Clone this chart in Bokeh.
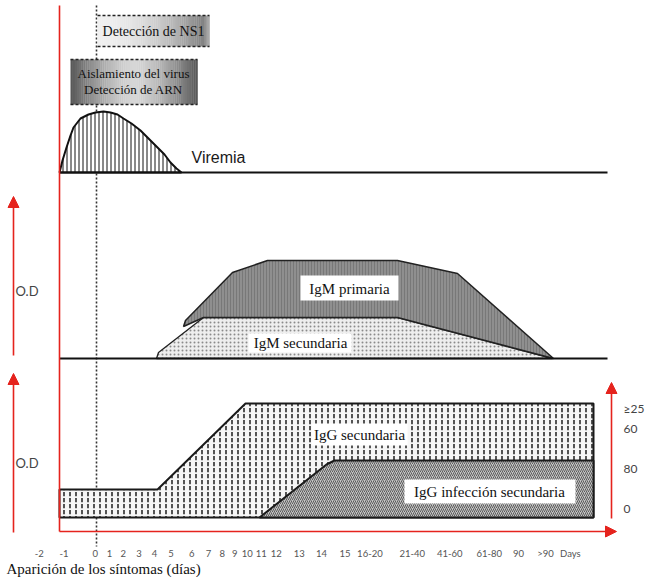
import numpy as np
from bokeh.plotting import figure
from bokeh.models import Range1d, Arrow, NormalHead
from bokeh.core.properties import value
from bokeh.embed import file_html
from bokeh.resources import INLINE

# ---------------- data (diagram coordinates) ----------------
tick_labels = ["-2", "-1", "0", "1", "2", "3", "4", "5", "6", "7", "8", "9", "10",
               "11", "12", "13", "14", "15", "16-20", "21-40", "41-60", "61-80",
               "90", ">90", "Days"]
tick_x = [38.7, 63.6, 94.8, 109, 122.7, 138.5, 153.9, 170.5, 191.3, 208, 221.7,
          234.2, 246.7, 260.8, 275.8, 298.7, 321.1, 344.4, 369.4, 411.8, 449.2,
          488.8, 517.9, 545, 569.9]

viremia_x = [59, 62, 66, 70, 73, 80, 88, 95, 103, 110, 117, 123, 131, 140, 148, 157, 164, 170, 176, 181]
viremia_y = [172, 160, 147, 135, 127, 118, 114, 112, 111, 112, 114, 118, 123, 130, 138, 147, 154, 162, 168, 172]

igm_sec_x = [156, 158, 203, 397, 552]
igm_sec_y = [358, 352, 317, 317, 358]

igm_pri_x = [183, 185, 232, 267, 397, 457, 553, 397, 203]
igm_pri_y = [326, 320, 272, 260, 260, 273, 358, 317, 317]

igg_sec_x = [59, 59, 157, 245, 593, 593]
igg_sec_y = [517, 489, 489, 403, 403, 517]

igg_inf_x = [259, 326, 334, 593, 593]
igg_inf_y = [517, 464, 460, 460, 517]

right_labels = ["\u226525", "60", "80", "0"]
right_labels_y = [408, 428, 468, 508]

RED = "#e5231d"

W, H = 645, 577
p = figure(width=W, height=H, x_range=Range1d(0, W), y_range=Range1d(H, 0),
           output_backend="svg", toolbar_location=None, min_border=0,
           x_axis_location=None, y_axis_location=None)
p.grid.visible = False
p.outline_line_color = None
p.background_fill_color = "white"
p.border_fill_color = "white"

# dashed vertical at day 0
p.line([96, 96], [5, 546], line_color="#333333", line_width=1.6, line_dash="2 2")

# gradient boxes
def grad_box(x0, x1, y0, y1, fn, n=60):
    xs = np.linspace(x0, x1, n + 1)
    t = (xs[:-1] + xs[1:]) / 2
    t = (t - x0) / (x1 - x0)
    g = np.clip(fn(t), 0, 255).astype(int)
    cols = ["#%02x%02x%02x" % (v, v, v) for v in g]
    p.quad(left=xs[:-1], right=xs[1:] + 0.3, top=y0, bottom=y1, fill_color=cols, line_color=None)
    p.line([x0, x1], [y0, y0], line_color="#222222", line_width=1.6, line_dash="3 2")
    p.line([x0, x1], [y1, y1], line_color="#222222", line_width=1.6, line_dash="3 2")

grad_box(97, 209, 15, 46, lambda t: 240 - 125 * t ** 2.0 + 60 * np.clip((t - 0.94) / 0.06, 0, 1))
grad_box(70, 197, 59, 104, lambda t: 215 - 130 * np.abs(2 * t - 1) ** 1.5)

p.text([153], [31], text=["Detección de NS1"], text_font=value("Liberation Serif"),
       text_font_size="14px", text_align="center", text_baseline="middle", text_color="#111111")
p.text([133, 133], [73, 89], text=["Aislamiento del virus", "Detección de ARN"],
       text_font=value("Liberation Serif"), text_font_size="13px", text_align="center",
       text_baseline="middle", text_color="#111111")

# viremia
p.patch(viremia_x, viremia_y, fill_color="white", hatch_pattern="|", hatch_color="#111111",
        hatch_scale=4, hatch_weight=1, line_color="#111111", line_width=2)
p.line([59, 607], [172, 172], line_color="#111111", line_width=2)
p.text([191], [157], text=["Viremia"], text_font=value("Liberation Sans"), text_font_size="16px",
       text_align="left", text_baseline="middle", text_color="#1a1a1a")

# IgM
p.patch(igm_sec_x, igm_sec_y, fill_color="#eeeeee", hatch_pattern=".", hatch_color="#8a8a8a",
        hatch_scale=4, hatch_weight=1, line_color="#222222", line_width=1.3)
p.patch(igm_pri_x, igm_pri_y, fill_color="#8f8f8f", hatch_pattern="|", hatch_color="#6e6e6e",
        hatch_scale=3, hatch_weight=0.7, line_color="#222222", line_width=1.5)
p.line([59, 607], [358, 358], line_color="#111111", line_width=1.8)

p.quad(left=[300], right=[398], top=[275], bottom=[300], fill_color="white", line_color=None)
p.text([349], [288], text=["IgM primaria"], text_font=value("Liberation Serif"),
       text_font_size="15px", text_align="center", text_baseline="middle", text_color="#111111")
p.quad(left=[248], right=[351], top=[333], bottom=[352], fill_color="white", line_color=None)
p.text([300], [342], text=["IgM secundaria"], text_font=value("Liberation Serif"),
       text_font_size="15px", text_align="center", text_baseline="middle", text_color="#111111")

# IgG
p.patch(igg_sec_x, igg_sec_y, fill_color="#f6f6f6", hatch_pattern=":", hatch_color="#2a2a2a",
        hatch_scale=6, hatch_weight=1.6, line_color="#1a1a1a", line_width=2)
p.patch(igg_inf_x, igg_inf_y, fill_color="#c4c4c4", hatch_pattern="/", hatch_color="#404040",
        hatch_scale=4, hatch_weight=0.8, line_color="#1a1a1a", line_width=2)

p.quad(left=[311], right=[407], top=[423], bottom=[445], fill_color="white", line_color=None)
p.text([359], [434], text=["IgG secundaria"], text_font=value("Liberation Serif"),
       text_font_size="15px", text_align="center", text_baseline="middle", text_color="#111111")
p.quad(left=[404], right=[575], top=[479], bottom=[503], fill_color="white", line_color=None)
p.text([489], [491], text=["IgG infección secundaria"], text_font=value("Liberation Serif"),
       text_font_size="15px", text_align="center", text_baseline="middle", text_color="#111111")

# red axes and arrows
p.line([59, 59], [5, 531], line_color=RED, line_width=1.6)
head = lambda: NormalHead(size=11, fill_color=RED, line_color=RED)
p.add_layout(Arrow(end=head(), x_start=59, y_start=531, x_end=616, y_end=531,
                   line_color=RED, line_width=1.6))
p.add_layout(Arrow(end=head(), x_start=13, y_start=355, x_end=13, y_end=196,
                   line_color=RED, line_width=1.6))
p.add_layout(Arrow(end=head(), x_start=13, y_start=532, x_end=13, y_end=373,
                   line_color=RED, line_width=1.6))
p.add_layout(Arrow(end=head(), x_start=611, y_start=518, x_end=611, y_end=382,
                   line_color=RED, line_width=1.6))

p.text([15, 15], [290, 462], text=["O.D", "O.D"], text_font=value("Lato"), text_font_size="13px",
       text_align="left", text_baseline="middle", text_color="#444444")
p.text([623] * len(right_labels), right_labels_y, text=right_labels, text_font=value("Lato"),
       text_font_size="12px", text_align="left", text_baseline="middle", text_color="#444444")

# tick labels
p.text(tick_x, [553] * len(tick_x), text=tick_labels, text_font=value("Lato"),
       text_font_size="9.5px", text_align="center", text_baseline="middle", text_color="#555555")
p.text([6], [568], text=["Aparición de los síntomas (días)"], text_font=value("Liberation Serif"),
       text_font_size="15px", text_align="left", text_baseline="middle", text_color="#111111")

open("out.html", "w").write(file_html(p, INLINE))
